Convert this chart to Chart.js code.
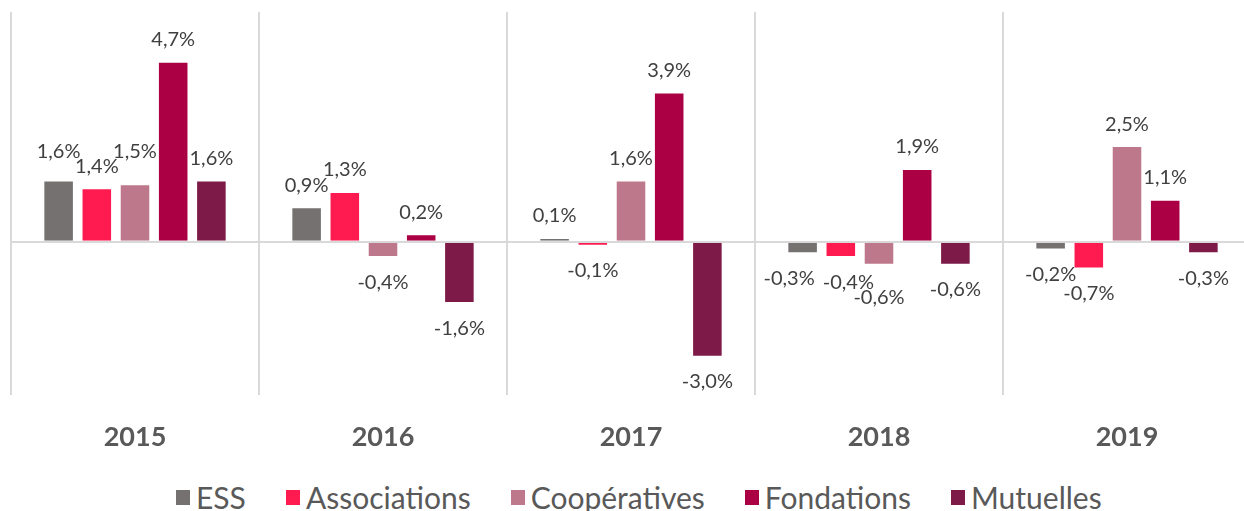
<!DOCTYPE html>
<html>
<head>
<meta charset="utf-8">
<script src="https://cdn.jsdelivr.net/npm/chart.js"></script>
<style>
  html, body { margin: 0; padding: 0; background: #fff; overflow: hidden; }
  #wrap { position: relative; width: 1252px; height: 470px; }
  #legend {
    position: absolute; left: 176px; top: 480px;
    display: flex; align-items: center; gap: 40px;
    font-family: Lato, sans-serif; font-size: 30px; line-height: 34px; color: #595959;
    white-space: nowrap;
  }
  #legend span.item { display: flex; align-items: center; }
  #legend span.box { width: 14px; height: 15px; margin-right: 6px; display: inline-block; }
</style>
</head>
<body>
<div id="wrap"><canvas id="chart"></canvas></div>
<div id="legend"></div>
<script>
// Data (growth rates in %)
const years = ['2015', '2016', '2017', '2018', '2019'];
const seriesNames = ['ESS', 'Associations', 'Coopératives', 'Fondations', 'Mutuelles'];
const ess = [1.6, 0.9, 0.1, -0.3, -0.2];
const associations = [1.4, 1.3, -0.1, -0.4, -0.7];
const cooperatives = [1.5, -0.4, 1.6, -0.6, 2.5];
const fondations = [4.7, 0.2, 3.9, 1.9, 1.1];
const mutuelles = [1.6, -1.6, -3.0, -0.6, -0.3];
const seriesColors = ['#767171', '#FF1B50', '#BD788B', '#AB0044', '#7D1A47'];

const seriesValues = [ess, associations, cooperatives, fondations, mutuelles];

Chart.defaults.font.family = 'Lato, sans-serif';

// Data labels: above positive bars, below negative ones, with a crude overlap fix
const valueLabels = {
  id: 'valueLabels',
  afterDatasetsDraw(chart) {
    const ctx = chart.ctx;
    ctx.save();
    ctx.font = '20px Lato, sans-serif';
    ctx.fillStyle = '#404040';
    ctx.textAlign = 'center';
    ctx.textBaseline = 'middle';
    const h = 15;
    const n = chart.data.datasets.length;
    chart.data.labels.forEach((_, j) => {
      const items = [];
      for (let i = 0; i < n; i++) {
        const bar = chart.getDatasetMeta(i).data[j];
        const v = chart.data.datasets[i].data[j];
        const txt = v.toFixed(1).replace('.', ',') + '%';
        const w = ctx.measureText(txt).width + 2;
        items.push({ v, txt, w, x: bar.x, y: v >= 0 ? bar.y - 22 : bar.y + 25 });
      }
      for (let k = 1; k < n; k++) {
        const a = items[k - 1], b = items[k];
        if ((a.v >= 0) !== (b.v >= 0)) continue;
        const dx = (a.w + b.w) / 2 - (b.x - a.x);
        const dy = h - Math.abs(a.y - b.y);
        if (dx <= 0 || dy <= 0) continue;
        if (a.v >= 0) {
          // push the higher label further up
          if (a.y <= b.y) a.y = b.y - h; else b.y = a.y - h;
        } else if (Math.abs(a.y - b.y) < 5) {
          // same row: spread sideways
          a.x -= dx / 2 + 6;
          b.x += dx / 2;
        } else {
          // push the lower label further down
          if (a.y >= b.y) a.y = b.y + h; else b.y = a.y + h;
        }
      }
      items.forEach(it => ctx.fillText(it.txt, it.x, it.y));
    });
    ctx.restore();
  }
};

new Chart(document.getElementById('chart'), {
  type: 'bar',
  data: {
    labels: years,
    datasets: seriesNames.map((name, i) => ({
      label: name,
      data: seriesValues[i],
      backgroundColor: seriesColors[i],
      borderColor: '#ffffff',
      borderWidth: 1,
      barPercentage: 0.8,
      categoryPercentage: 0.77
    }))
  },
  options: {
    responsive: true,
    maintainAspectRatio: false,
    animation: false,
    layout: { padding: { top: 12, left: 11, right: 1, bottom: 0 } },
    plugins: {
      legend: { display: false },
      tooltip: { enabled: false }
    },
    scales: {
      x: {
        grid: { offset: true, color: '#D9D9D9', lineWidth: 2, drawTicks: false },
        border: { display: false },
        ticks: {
          padding: 26,
          color: '#595959',
          font: { size: 27, weight: 'bold' }
        },
        afterFit: (s) => { s.height = 75; }
      },
      y: {
        min: -4,
        max: 6,
        ticks: { display: false, stepSize: 1 },
        border: { display: false },
        grid: {
          z: 1,
          drawTicks: false,
          lineWidth: 2,
          color: (c) => (c.tick && c.tick.value === 0 ? '#D9D9D9' : 'rgba(0,0,0,0)')
        },
        afterFit: (s) => { s.width = 0; }
      }
    }
  },
  plugins: [valueLabels]
});

// Legend
const legend = document.getElementById('legend');
seriesNames.forEach((name, i) => {
  const item = document.createElement('span');
  item.className = 'item';
  item.innerHTML = '<span class="box" style="background:' + seriesColors[i] + '"></span>' + name;
  legend.appendChild(item);
});
</script>
</body>
</html>
